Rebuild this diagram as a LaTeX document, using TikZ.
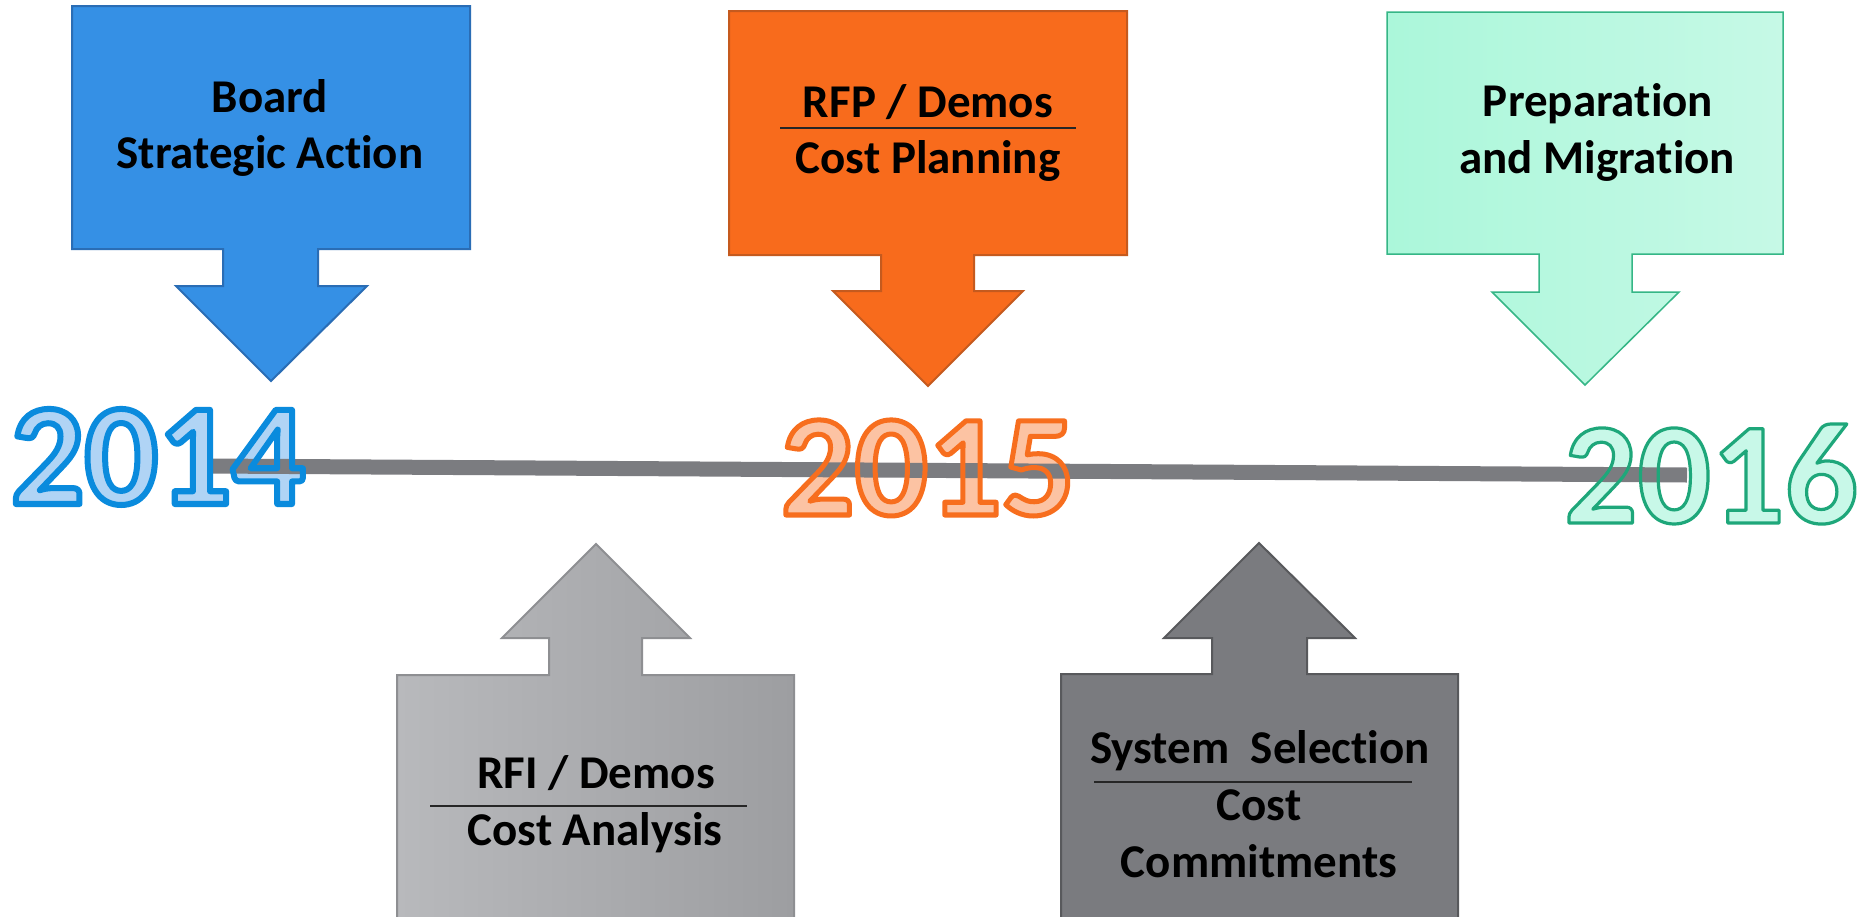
\documentclass[tikz,border=0pt]{standalone}
\usepackage{fontspec}
\setmainfont[Ligatures=NoCommon]{Carlito}
\definecolor{blueF}{HTML}{3590E5}
\definecolor{blueD}{HTML}{2A6DB5}
\definecolor{orangeF}{HTML}{F86B1C}
\definecolor{orangeD}{HTML}{C55A1E}
\definecolor{greenL}{HTML}{ABF7DA}
\definecolor{greenR}{HTML}{C6F9E6}
\definecolor{greenD}{HTML}{35B686}
\definecolor{lgrayL}{HTML}{B8B9BC}
\definecolor{lgrayR}{HTML}{9D9EA1}
\definecolor{lgrayD}{HTML}{8E8F92}
\definecolor{dgrayF}{HTML}{7A7B7F}
\definecolor{dgrayD}{HTML}{58595C}
\definecolor{lineG}{HTML}{7B7C80}
\definecolor{y14F}{HTML}{B0D4F5}
\definecolor{y15F}{HTML}{FCC3A3}
\definecolor{y16F}{HTML}{C8F8E8}
\newcommand\strokedtext[3]{\special{pdf:literal direct #1 RG #2 w 1 j 1 Tr}#3\special{pdf:literal direct 0 Tr}}
\begin{document}
\begin{tikzpicture}[x=1pt,y=-1pt,
  boxlabel/.style={font=\fontsize{47}{56}\selectfont\bfseries, text=black, inner sep=0pt, anchor=base},
  sepline/.style={line width=1.6pt, draw=black!85},
  yearlabel/.style={font=\fontsize{145}{150}\selectfont\bfseries, inner sep=0pt, anchor=base},
  shapeline/.style={line width=2pt, line join=miter}]
\useasboundingbox (0,0) rectangle (1866,916);
\clip (0,0) rectangle (1866,916);
\fill[white] (0,0) rectangle (1866,916);
% top arrows
\path[shapeline, fill=blueF, draw=blueD] (72,6) -- (470,6) -- (470,249) -- (318,249) -- (318,286) -- (367,286) -- (271,381) -- (176,286) -- (223,286) -- (223,249) -- (72,249) -- cycle;
\path[shapeline, fill=orangeF, draw=orangeD] (729,11) -- (1127,11) -- (1127,255) -- (974,255) -- (974,291) -- (1023,291) -- (928,386) -- (833,291) -- (881,291) -- (881,255) -- (729,255) -- cycle;
\path[shapeline, left color=greenL, right color=greenR, draw=greenD, line width=1.5pt] (1387,12) -- (1783,12) -- (1783,254) -- (1632,254) -- (1632,292) -- (1679,292) -- (1585,385) -- (1492,292) -- (1539,292) -- (1539,254) -- (1387,254) -- cycle;
% bottom arrows
\path[shapeline, left color=lgrayL, right color=lgrayR, draw=lgrayD] (397,940) -- (397,675) -- (549,675) -- (549,638) -- (502,638) -- (596,544) -- (690,638) -- (642,638) -- (642,675) -- (794,675) -- (794,940) -- cycle;
\path[shapeline, fill=dgrayF, draw=dgrayD] (1061,940) -- (1061,674) -- (1212,674) -- (1212,638) -- (1164,638) -- (1259,543) -- (1355,638) -- (1307,638) -- (1307,674) -- (1458,674) -- (1458,940) -- cycle;
% labels
\node[boxlabel] (bsa1) at (270,112) {Board};
\node[boxlabel] (bsa2) at (270,168) {Strategic Action};
\node[boxlabel] (rfp1) at (928,117) {RFP / Demos};
\draw[sepline] (780,128) -- (1076,128);
\node[boxlabel] (rfp2) at (928,173) {Cost Planning};
\node[boxlabel] (pm1) at (1598,116) {Preparation};
\node[boxlabel] (pm2) at (1597,173) {and Migration};
\node[boxlabel] (rfi1) at (596,788) {RFI / Demos};
\draw[sepline] (430,806) -- (747,806);
\node[boxlabel] (rfi2) at (595,845) {Cost Analysis};
\node[boxlabel] (ss1) at (1260,763) {System\ \ Selection};
\draw[sepline] (1094,782) -- (1412,782);
\node[boxlabel] (ss2) at (1259,820) {Cost};
\node[boxlabel] (ss3) at (1259,877) {Commitments};
% years: fill
\node[yearlabel, text=y14F] (y14) at (158,504) {2014};
\node[yearlabel, text=y15F] (y15) at (928,515) {2015};
\node[yearlabel, text=y16F] (y16) at (1711,523) {2016};
% timeline
\coordinate (tlA) at (208,466);
\coordinate (tlB) at (1687,475);
\draw[line width=15pt, draw=lineG] (tlA) -- (tlB);
% years: outline
\node[yearlabel, text=black] (y14o) at (158,504) {\strokedtext{0.04 0.545 0.867}{6}{2014}};
\node[yearlabel, text=black] (y15o) at (928,515) {\strokedtext{0.969 0.431 0.118}{5}{2015}};
\node[yearlabel, text=black] (y16o) at (1711,523) {\strokedtext{0.118 0.655 0.478}{3.2}{2016}};
\end{tikzpicture}
\end{document}
